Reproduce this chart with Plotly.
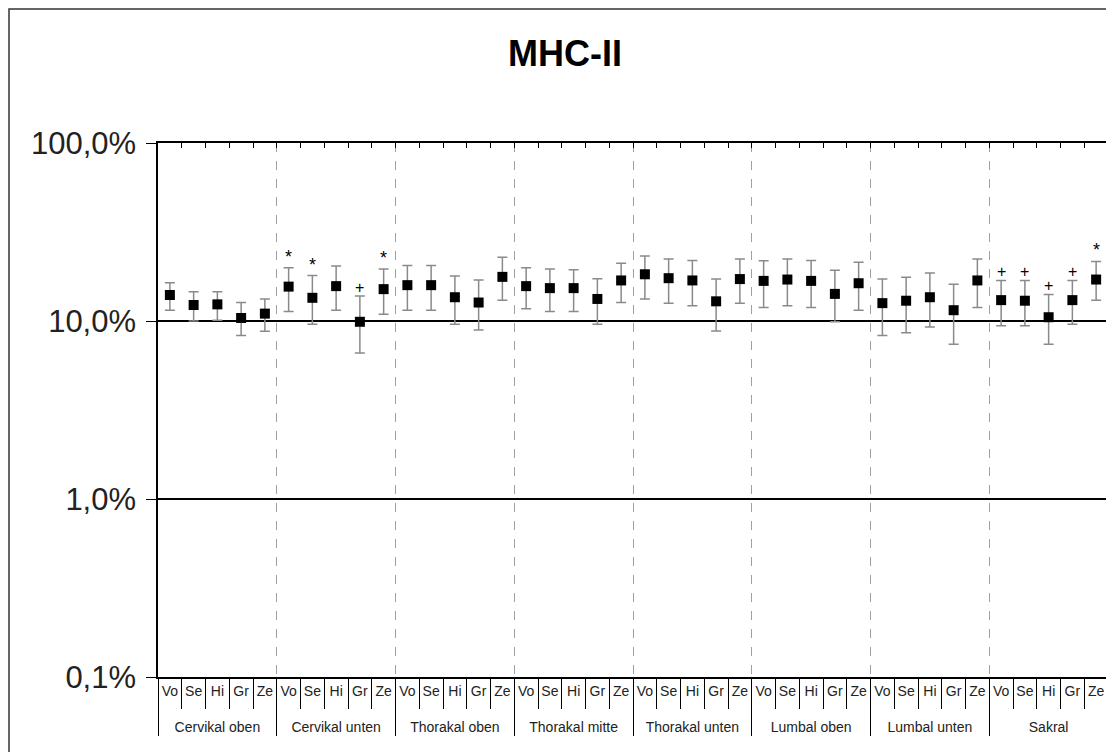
import plotly.graph_objects as go
import math

groups = ["Cervikal oben", "Cervikal unten", "Thorakal oben", "Thorakal mitte",
          "Thorakal unten", "Lumbal oben", "Lumbal unten", "Sakral"]
subs = ["Vo", "Se", "Hi", "Gr", "Ze"]

# mean values in percent
mean_pct = [14.0, 12.3, 12.4, 10.4, 11.0,
            15.6, 13.5, 15.7, 9.9, 15.1,
            15.9, 15.9, 13.6, 12.7, 17.7,
            15.7, 15.3, 15.3, 13.3, 16.9,
            18.3, 17.4, 16.9, 12.9, 17.2,
            16.8, 17.1, 16.8, 14.2, 16.3,
            12.6, 13.0, 13.6, 11.5, 16.9,
            13.1, 13.0, 10.5, 13.1, 17.1]
# upper end of error bars in percent
upper_pct = [16.4, 14.6, 14.6, 12.7, 13.3,
             19.9, 18.0, 20.4, 13.8, 19.6,
             20.5, 20.5, 17.9, 17.0, 22.8,
             19.9, 19.6, 19.4, 17.3, 21.1,
             23.2, 22.3, 21.9, 17.2, 22.3,
             21.8, 22.3, 21.9, 19.3, 21.4,
             17.2, 17.6, 18.6, 16.1, 22.3,
             16.9, 16.9, 14.1, 16.9, 21.6]
# lower end of error bars in percent
lower_pct = [11.5, 10.0, 10.1, 8.3, 8.75,
             11.3, 9.6, 11.5, 6.6, 10.9,
             11.5, 11.5, 9.6, 8.9, 13.1,
             11.7, 11.3, 11.3, 9.6, 12.7,
             13.3, 12.6, 12.2, 8.8, 12.6,
             11.9, 12.2, 11.9, 9.9, 11.5,
             8.3, 8.6, 9.25, 7.4, 11.9,
             9.4, 9.4, 7.4, 9.6, 13.1]
# significance markers
sig = ["", "", "", "", "",
       "*", "*", "", "+", "*",
       "", "", "", "", "",
       "", "", "", "", "",
       "", "", "", "", "",
       "", "", "", "", "",
       "", "", "", "", "",
       "+", "+", "+", "+", "*"]

y_ticks = [0.001, 0.01, 0.1, 1.0]
y_ticktext = ["0,1%", "1,0%", "10,0%", "100,0%"]

# an extra blank line under the inner labels pushes the group labels down
x_outer = [g for g in groups for _ in subs]
x_inner = [s + "<br>\u00a0" for _ in groups for s in subs]
mean = [v / 100 for v in mean_pct]
upper = [v / 100 for v in upper_pct]
lower = [v / 100 for v in lower_pct]
err_plus = [u - m for u, m in zip(upper, mean)]
err_minus = [m - l for m, l in zip(mean, lower)]
n = len(x_inner)

FONT = "Liberation Sans, Arial, sans-serif"
W, H = 1106, 744  # page body adds an 8px margin

fig = go.Figure()
fig.add_trace(go.Scatter(
    x=[x_outer, x_inner], y=mean, mode="markers",
    marker=dict(symbol="square", size=10, color="black"),
    error_y=dict(type="data", symmetric=False, array=err_plus, arrayminus=err_minus,
                 color="#8a8a8a", thickness=1.5, width=5),
    showlegend=False, hoverinfo="skip",
))
# empty helper trace to keep the top overlay axis alive
fig.add_trace(go.Scatter(x=[], y=[], xaxis="x2", yaxis="y", showlegend=False))

annotations = []
for i, s in enumerate(sig):
    if s:
        annotations.append(dict(
            x=i, xref="x2", y=math.log10(upper[i]), yref="y",
            text=s, showarrow=False, yanchor="middle",
            yshift=11 if s == "*" else 9,
            font=dict(family=FONT, size=18 if s == "*" else 16, color="black")))

fig.update_layout(
    width=W, height=H,
    margin=dict(l=150, r=6, t=135, b=75),
    paper_bgcolor="white", plot_bgcolor="white",
    title=dict(text="<b>MHC-II</b>", x=557 / W, xanchor="center",
               y=1 - 45 / H, yanchor="middle",
               font=dict(family=FONT, size=36, color="black")),
    xaxis=dict(
        type="multicategory", range=[-0.5, n - 0.5], autorange=False,
        automargin=False, showline=True, linecolor="black", linewidth=1.5,
        ticks="outside", ticklen=30, tickcolor="black", tickwidth=1,
        tickson="boundaries", showgrid=False, tickangle=0,
        showdividers=True, dividercolor="black", dividerwidth=1,
        tickfont=dict(family=FONT, size=14, color="#222"),
    ),
    xaxis2=dict(
        overlaying="x", side="top", anchor="y", range=[-0.5, n - 0.5],
        autorange=False, automargin=False,
        showline=True, linecolor="black", linewidth=1.5,
        tickmode="array", tickvals=[k * len(subs) - 0.5 for k in range(1, len(groups))],
        ticks="inside", ticklen=5, tickcolor="black", showticklabels=False,
        showgrid=True, gridcolor="#a0a0a0", griddash="dash", gridwidth=1,
        minor=dict(tickmode="linear", tick0=-0.5, dtick=1, ticks="inside",
                   ticklen=5, tickcolor="black", showgrid=False),
        zeroline=False,
    ),
    yaxis=dict(
        type="log", range=[-3, 0], autorange=False, automargin=False,
        tickmode="array", tickvals=y_ticks,
        ticktext=y_ticktext, ticks="outside", ticklen=10, tickcolor="black",
        ticklabelstandoff=4,
        showline=True, linecolor="black", linewidth=1.5, mirror=True,
        showgrid=True, gridcolor="black", gridwidth=1.5, zeroline=False,
        tickfont=dict(family=FONT, size=31, color="#222"),
    ),
    annotations=annotations,
    shapes=[dict(type="rect", xref="paper", yref="paper",
                 x0=-149 / 950, x1=1.05, y0=-0.3, y1=(534 + 134) / 534,
                 line=dict(color="#333", width=1.5), fillcolor="rgba(0,0,0,0)",
                 layer="below")],
)

fig.write_html("out.html")
